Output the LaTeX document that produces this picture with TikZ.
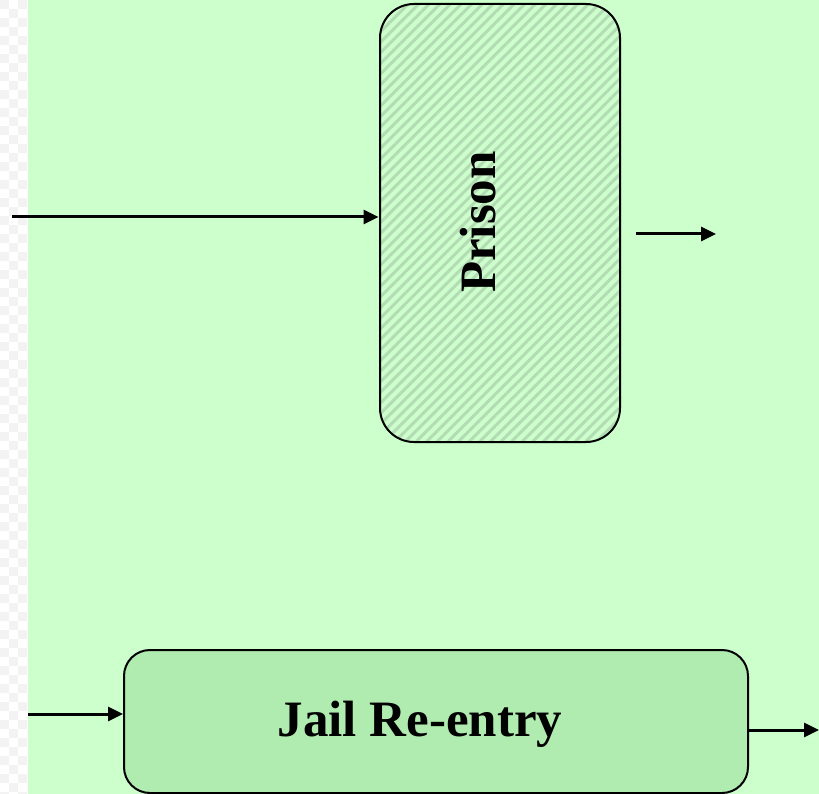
\documentclass[tikz,border=0pt]{standalone}
\usepackage{fontspec}
\setmainfont{Liberation Serif}
\usetikzlibrary{arrows.meta,patterns.meta}
\definecolor{bggreen}{HTML}{CCFFCC}
\definecolor{stripegreen}{HTML}{B4DCB4}
\definecolor{jailgreen}{HTML}{B0ECB0}
\definecolor{checkgray}{HTML}{F3F3F3}
\tikzset{
  arr/.style={line width=3pt,-{Triangle[length=15pt,width=14pt]}},
  boxline/.style={draw=black,line width=2pt},
  prisonbox/.style={boxline,rounded corners=34pt,minimum width=240pt,minimum height=438pt,
    preaction={fill=bggreen},pattern={Lines[angle=45,distance=7.5pt,line width=3pt]},pattern color=stripegreen},
  jailbox/.style={boxline,fill=jailgreen,rounded corners=26pt,minimum width=624pt,minimum height=143pt},
  lbl/.style={font=\fontsize{51}{56}\selectfont\bfseries,inner sep=0pt},
}
\begin{document}
\begin{tikzpicture}[x=1pt,y=-1pt]
\useasboundingbox (0,0) rectangle (819,794);
\fill[white] (0,0) rectangle (28,794);
\foreach \r in {0,...,44}{
  \fill[checkgray] (0,\r*18) rectangle (9,\r*18+9);
  \fill[checkgray] (18,\r*18) rectangle (27,\r*18+9);
  \fill[checkgray] (9,\r*18+9) rectangle (18,\r*18+18);
}
\fill[bggreen] (28,0) rectangle (819,794);

\node[prisonbox] (prison) at (500,223) {};
\node[lbl,rotate=90,anchor=base] (prisonlbl) at (495,222) {Prison};

\node[jailbox] (jail) at (436,721.5) {};
\node[lbl,anchor=base] (jaillbl) at (420,736) {Jail Re-entry};

\coordinate (pin) at (12,217);
\draw[arr] (pin) -- (pin -| prison.west);
\coordinate (pout1) at (636,234);
\coordinate (pout2) at (716,234);
\draw[arr] (pout1) -- (pout2);
\coordinate (jin) at (28,714);
\draw[arr] (jin) -- (jin -| jail.west);
\coordinate (jout1) at (jail.east |- 0,730);
\coordinate (jout2) at (819,730);
\draw[arr] (jout1) -- (jout2);
\end{tikzpicture}
\end{document}
